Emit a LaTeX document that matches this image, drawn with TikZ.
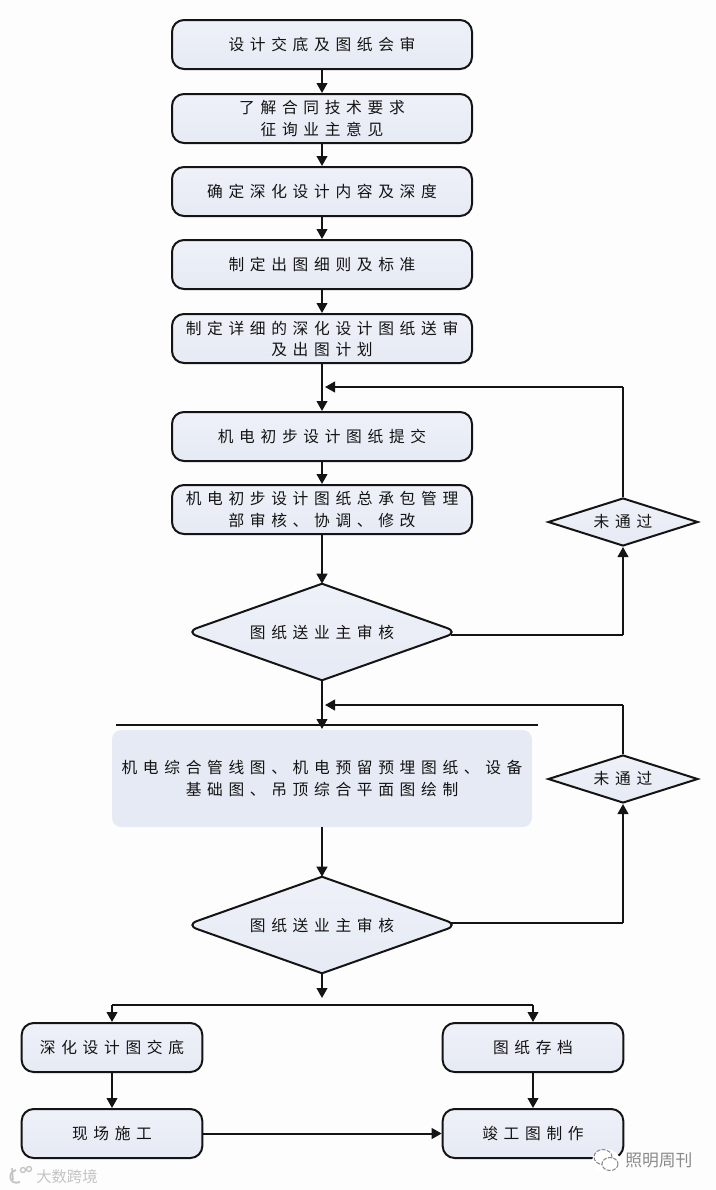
\documentclass[tikz,border=0pt]{standalone}
\usepackage{fontspec}
\usetikzlibrary{arrows.meta,shapes.geometric,backgrounds,positioning,calc}
\newfontfamily\cjk[LetterSpace=36]{Noto Sans CJK SC}
\newfontfamily\cjkplain{Noto Sans CJK SC}
\definecolor{boxfill}{HTML}{E6EAF4}
\definecolor{boxtop}{HTML}{EEF1F8}
\definecolor{ink}{HTML}{141414}
\definecolor{paper}{HTML}{FDFDFD}
\definecolor{markgray}{HTML}{8A8A8A}
\definecolor{markpale}{HTML}{C4C4C4}
\tikzset{
  x=0.75pt,y=-0.75pt,
  base/.style={font=\cjk\fontsize{11.8pt}{15.8pt}\selectfont,text=ink,align=center,inner sep=0pt},
  flowbox/.style={base,draw=ink,line width=1.5pt,rounded corners=9pt,top color=boxtop,bottom color=boxfill,minimum width=225pt,minimum height=36.75pt},
  smallbox/.style={flowbox,minimum width=135.5pt},
  bigdec/.style={base,diamond,aspect=2.73,minimum width=204pt,minimum height=72pt},
  smalldec/.style={base,diamond,draw=ink,line width=1.5pt,top color=boxtop,bottom color=boxfill,aspect=3.1,minimum width=112.5pt,minimum height=36pt},
  decbody/.style={draw=ink,line width=1.5pt,top color=boxtop,bottom color=boxfill},
  plainbox/.style={base,fill=boxfill,rounded corners=7pt,minimum width=315pt,minimum height=72.75pt},
  link/.style={draw=ink,line width=1.5pt},
  arrow/.style={link,-{Triangle[length=7.5pt,width=8pt]}},
  mark text/.style={font=\cjkplain\fontsize{11.5pt}{14pt}\selectfont,text=markpale,inner sep=0pt},
  mark dark/.style={font=\cjkplain\fontsize{12.6pt}{14pt}\selectfont,text=markgray,inner sep=0pt},
}
\begin{document}
\begin{tikzpicture}
\useasboundingbox (0,0) rectangle (716,1190);
\begin{scope}[on background layer]
\fill[paper] (0,0) rectangle (716,1190);
\end{scope}
\node[flowbox] (b1) at (322,44.5) {设计交底及图纸会审};
\node[flowbox] (b2) at (322,118.5) {了解合同技术要求\\征询业主意见};
\node[flowbox] (b3) at (322,191.5) {确定深化设计内容及深度};
\node[flowbox] (b4) at (322,264.5) {制定出图细则及标准};
\node[flowbox] (b5) at (322,338.5) {制定详细的深化设计图纸送审\\及出图计划};
\node[flowbox] (b6) at (322,436.5) {机电初步设计图纸提交};
\node[flowbox] (b7) at (322,509.5) {机电初步设计图纸总承包管理\\部审核、协调、修改};
\node[bigdec] (d1) at (322,632) {图纸送业主审核};
\node[smalldec] (r1) at (623,522) {未通过};
\coordinate (j1) at (325,387);
\coordinate (c1) at (623,387);
\coordinate (e1) at (623,635);
\coordinate (x1) at (451,635);
\node[plainbox] (big) at (322,778.5) {机电综合管线图、机电预留预埋图纸、设备\\基础图、吊顶综合平面图绘制};
\coordinate (ruleL) at (116,725);
\coordinate (ruleR) at (538,725);
\coordinate (ruleM) at (322,729);
\node[bigdec] (d2) at (322,925) {图纸送业主审核};
\node[smalldec] (r2) at (623,779) {未通过};
\coordinate (j2) at (325,705);
\coordinate (c2) at (623,705);
\coordinate (e2) at (623,923);
\coordinate (x2) at (451,923);
\node[smallbox] (l1) at (112,1047.5) {深化设计图交底};
\node[smallbox] (l2) at (112,1133.5) {现场施工};
\node[smallbox] (s1) at (533,1047.5) {图纸存档};
\node[smallbox] (s2) at (533,1133.5) {竣工图制作};
\coordinate (stub) at (322,998);
\coordinate (busL) at (112,1005);
\coordinate (busR) at (533,1005);
\begin{scope}[on background layer]
\foreach \d in {d1,d2}{
  \path[decbody] (\d.north) [rounded corners=9pt] -- (\d.west) [sharp corners] -- (\d.south) [rounded corners=9pt] -- (\d.east) [sharp corners] -- cycle;
}
\end{scope}
\draw[arrow] (b1) -- (b2);
\draw[arrow] (b2) -- (b3);
\draw[arrow] (b3) -- (b4);
\draw[arrow] (b4) -- (b5);
\draw[arrow] (b5) -- (b6);
\draw[arrow] (b6) -- (b7);
\draw[arrow] (b7) -- (d1.north);
\draw[link] (x1) -- (e1);
\draw[arrow] (e1) -- (r1);
\draw[link] (r1) -- (c1);
\draw[arrow] (c1) -- (j1);
\draw[link] (ruleL) -- (ruleR);
\draw[arrow] (d1.south) -- (ruleM);
\draw[link] (r2) -- (c2);
\draw[arrow] (c2) -- (j2);
\draw[arrow] (big.south) -- (d2.north);
\draw[link] (x2) -- (e2);
\draw[arrow] (e2) -- (r2);
\draw[arrow] (d2.south) -- (stub);
\draw[link] (busL) -- (busR);
\draw[arrow] (busL) -- (l1);
\draw[arrow] (busR) -- (s1);
\draw[arrow] (l1) -- (l2);
\draw[arrow] (s1) -- (s2);
\draw[arrow] (l2) -- (s2);
% watermarks
\fill[white] (606,1161) ellipse [x radius=14, y radius=12];
\draw[markgray,line width=0.8pt,dash pattern=on 3pt off 1pt,fill=white] (603,1157) ellipse [x radius=9, y radius=7.5];
\draw[markgray,line width=0.8pt,dash pattern=on 3pt off 1pt,fill=white] (610,1164) ellipse [x radius=8, y radius=6.5];
\node[mark text,anchor=west] (wm1) at (36,1177) {大数跨境};
\node[mark dark,anchor=west] (wm2) at (625,1160) {照明周刊};
\draw[markpale,line width=1.4pt] (16,1170) .. controls (7,1172) and (9,1186) .. (20,1182);
\draw[markpale,line width=1.2pt] (12,1168) -- (13,1180);
\draw[markpale,line width=1pt] (23,1170) circle [radius=2.5];
\draw[markpale,line width=1pt] (29,1169) circle [radius=2.5];
\end{tikzpicture}
\end{document}
